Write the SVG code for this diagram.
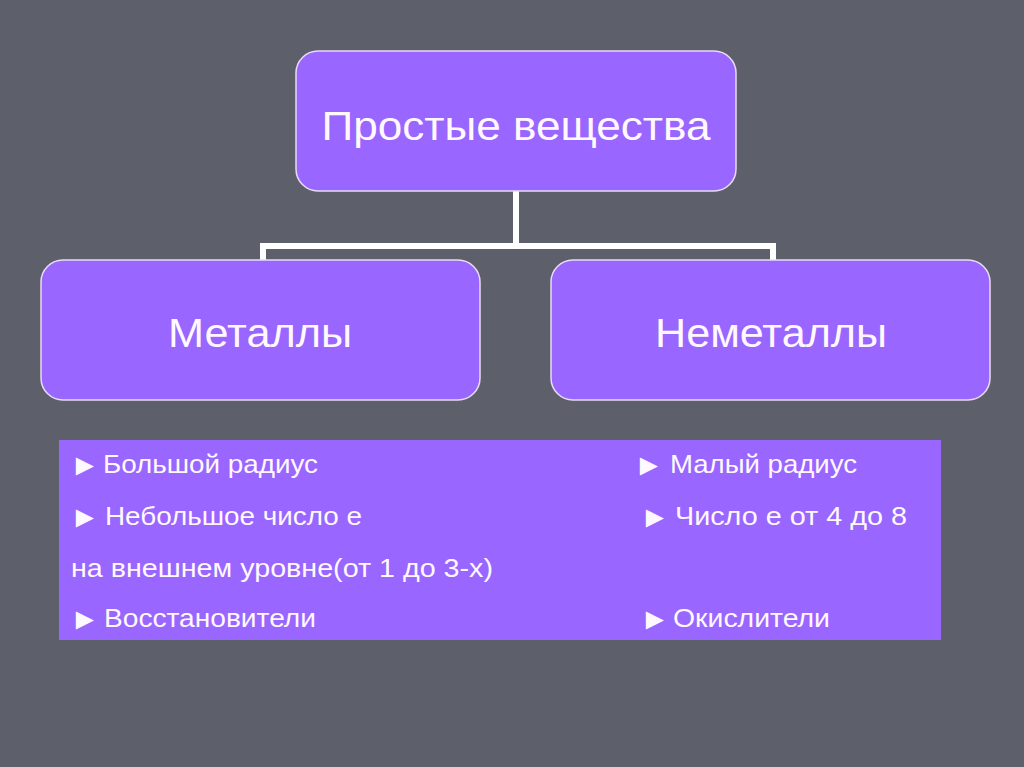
<svg xmlns="http://www.w3.org/2000/svg" width="1024" height="767" viewBox="0 0 1024 767">
<style>
.box{fill:#9966ff;stroke:#e8dcf5;stroke-width:1.5}
.t{font-family:"Liberation Sans","DejaVu Sans",sans-serif;fill:#fff8ff}
.h{font-size:41px;text-anchor:middle}
.s{font-size:26px}
.a{font-size:30px}
.conn{fill:none;stroke:#ffffff;stroke-width:6}
</style>
<rect width="1024" height="767" fill="#5d5f6b"/>
<g id="connectors">
<path class="conn" d="M516,191 V246 M263,260 V246 H773 V260"/>
</g>
<g id="node-top">
<rect class="box" x="296" y="51" width="440" height="140" rx="22"/>
<text class="t h" x="516" y="140" textLength="389" lengthAdjust="spacingAndGlyphs">Простые вещества</text>
</g>
<g id="node-metals">
<rect class="box" x="41" y="260" width="439" height="140" rx="22"/>
<text class="t h" x="260" y="347" textLength="184" lengthAdjust="spacingAndGlyphs">Металлы</text>
</g>
<g id="node-nonmetals">
<rect class="box" x="551" y="260" width="439" height="140" rx="22"/>
<text class="t h" x="771" y="347" textLength="232" lengthAdjust="spacingAndGlyphs">Неметаллы</text>
</g>
<g id="properties">
<rect x="59" y="440" width="882" height="200" fill="#9966ff"/>
<g class="t">
<text class="a" x="70" y="475">►</text>
<text class="s" x="103" y="473" textLength="215" lengthAdjust="spacingAndGlyphs">Большой радиус</text>
<text class="a" x="634" y="475">►</text>
<text class="s" x="670" y="473" textLength="187" lengthAdjust="spacingAndGlyphs">Малый радиус</text>
<text class="a" x="70" y="527">►</text>
<text class="s" x="105" y="525" textLength="257" lengthAdjust="spacingAndGlyphs">Небольшое число е</text>
<text class="a" x="640" y="527">►</text>
<text class="s" x="675" y="525" textLength="232" lengthAdjust="spacingAndGlyphs">Число е от 4 до 8</text>
<text class="s" x="71" y="577" textLength="422" lengthAdjust="spacingAndGlyphs">на внешнем уровне(от 1 до 3-х)</text>
<text class="a" x="70" y="629">►</text>
<text class="s" x="104" y="627" textLength="212" lengthAdjust="spacingAndGlyphs">Восстановители</text>
<text class="a" x="640" y="629">►</text>
<text class="s" x="673" y="627" textLength="157" lengthAdjust="spacingAndGlyphs">Окислители</text>
</g>
</g>
</svg>
